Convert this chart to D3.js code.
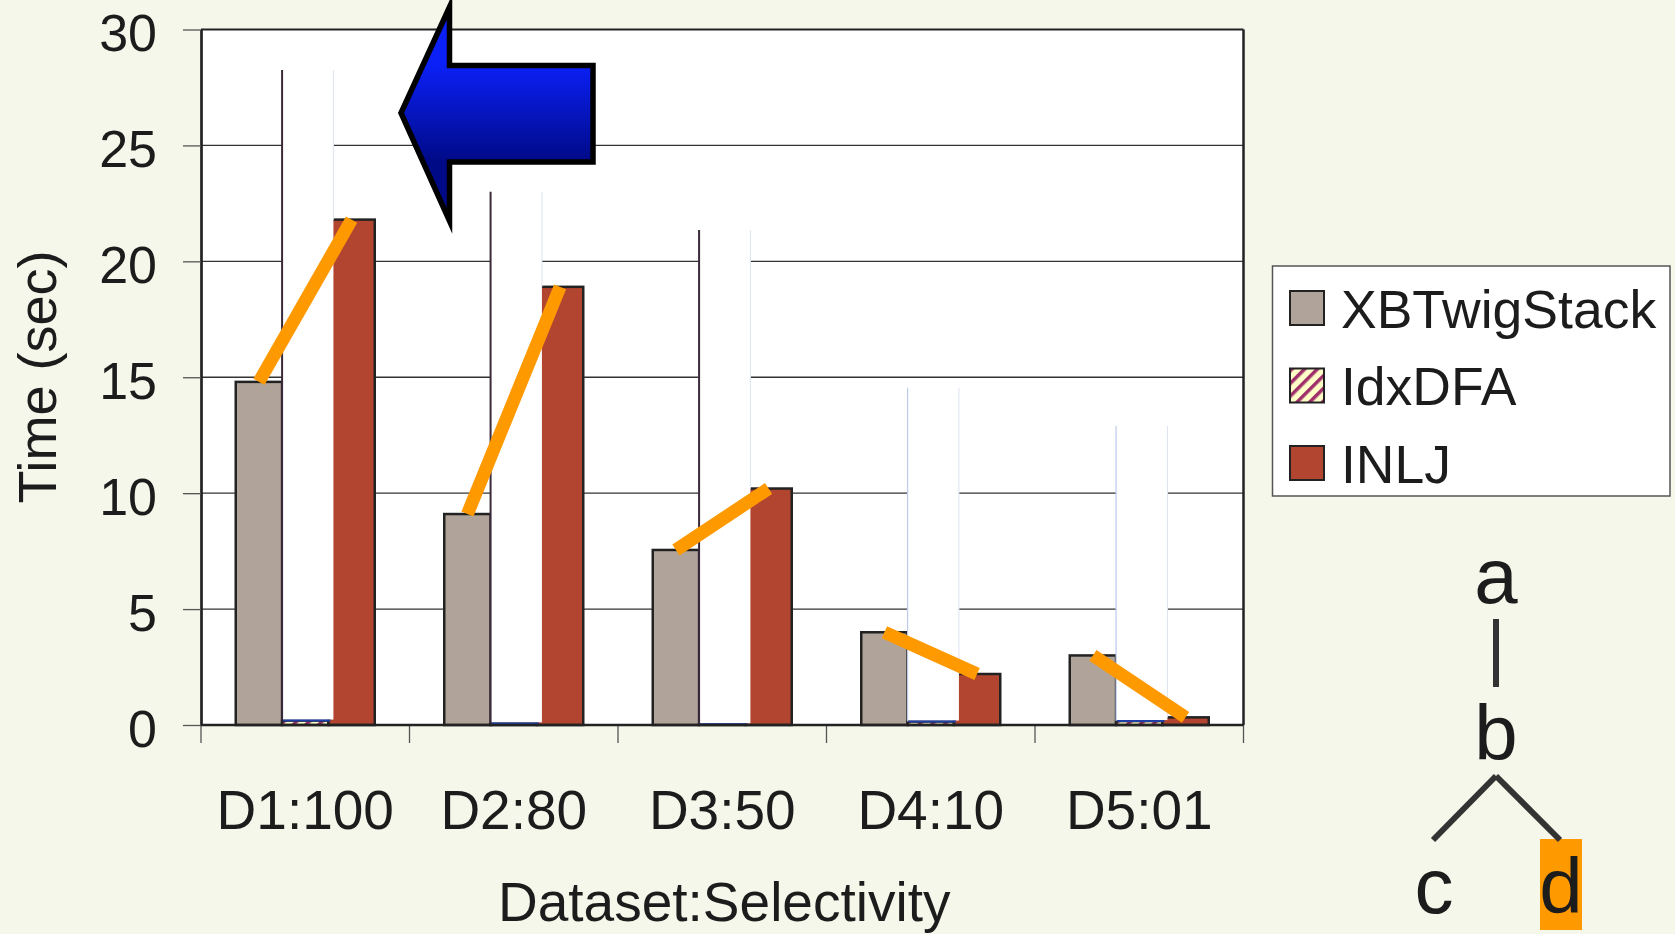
<!DOCTYPE html>
<html>
<head>
<meta charset="utf-8">
<script src="https://cdn.jsdelivr.net/npm/d3@7"></script>
<style>
  html, body { margin: 0; padding: 0; background: #F4F7EA; }
  svg { display: block; }
  text { font-family: 'Liberation Sans', Arial, sans-serif; fill: #1c1c1c; }
</style>
</head>
<body>
<div id="chart"></div>
<script>
// Data
const categories = ['D1:100', 'D2:80', 'D3:50', 'D4:10', 'D5:01'];
const seriesNames = ['XBTwigStack', 'IdxDFA', 'INLJ'];
const xbTwigStack = [14.8, 9.1, 7.55, 4.0, 3.0];
const idxDFA = [0.19, 0.07, 0.03, 0.15, 0.17];
const inlj = [21.8, 18.9, 10.2, 2.2, 0.33];
// tops of the white boxes laid over the IdxDFA column
const coverTops = [28.25, 23.0, 21.35, 14.55, 12.9];
const yTicks = [0, 5, 10, 15, 20, 25, 30];

const seriesValues = { XBTwigStack: xbTwigStack, IdxDFA: idxDFA, INLJ: inlj };
const seriesFill = { XBTwigStack: '#B0A49A', IdxDFA: 'url(#hatch)', INLJ: '#B24530' };

const W = 1675;
const H = 934;
const plot = { left: 201, right: 1243.5, top: 29.5, bottom: 725 };

const svg = d3.select('#chart')
  .append('svg')
  .attr('width', W)
  .attr('height', H);

svg.append('rect')
  .attr('width', W)
  .attr('height', H)
  .attr('fill', '#F4F7EA');

const defs = svg.append('defs');

// diagonal hatch for IdxDFA
const hatch = defs.append('pattern')
  .attr('id', 'hatch')
  .attr('patternUnits', 'userSpaceOnUse')
  .attr('width', 9)
  .attr('height', 9)
  .attr('patternTransform', 'rotate(45)');
hatch.append('rect').attr('width', 9).attr('height', 9).attr('fill', '#FFFFC8');
hatch.append('rect').attr('width', 3.5).attr('height', 9).attr('fill', '#9E2F6A');

const grad = defs.append('linearGradient')
  .attr('id', 'arrowFill')
  .attr('gradientUnits', 'userSpaceOnUse')
  .attr('x1', 0).attr('y1', 65)
  .attr('x2', 0).attr('y2', 162);
grad.append('stop').attr('offset', 0).attr('stop-color', '#0B20F6');
grad.append('stop').attr('offset', 1).attr('stop-color', '#000A86');

// Scales
const x0 = d3.scaleBand()
  .domain(categories)
  .range([plot.left, plot.right]);

const x1 = d3.scaleBand()
  .domain(seriesNames)
  .range([0, x0.bandwidth()])
  .paddingInner(0)
  .paddingOuter(0.75);

const y = d3.scaleLinear()
  .domain([0, 30])
  .range([plot.bottom, plot.top]);

const bw = x1.bandwidth();

// Plot background
svg.append('rect')
  .attr('x', plot.left)
  .attr('y', plot.top)
  .attr('width', plot.right - plot.left)
  .attr('height', plot.bottom - plot.top)
  .attr('fill', '#fff');

// Gridlines
svg.append('g')
  .selectAll('line')
  .data(yTicks.filter(t => t > 0 && t < 30))
  .enter()
  .append('line')
  .attr('x1', plot.left)
  .attr('x2', plot.right)
  .attr('y1', d => y(d))
  .attr('y2', d => y(d))
  .style('stroke', '#333')
  .style('stroke-width', '1.3px');

// Bars
const groups = svg.append('g')
  .selectAll('g')
  .data(categories)
  .enter()
  .append('g')
  .attr('transform', d => `translate(${x0(d)},0)`);

groups.selectAll('rect')
  .data((c, i) => seriesNames.map(s => ({ s, v: seriesValues[s][i] })))
  .enter()
  .append('rect')
  .attr('x', d => x1(d.s))
  .attr('y', d => y(d.v))
  .attr('width', bw)
  .attr('height', d => y(0) - y(d.v))
  .attr('fill', d => seriesFill[d.s])
  .style('stroke', '#222')
  .style('stroke-width', '2.5px');

// White covers over the IdxDFA column
const covers = svg.append('g')
  .selectAll('g')
  .data(categories)
  .enter()
  .append('g')
  .attr('transform', d => `translate(${x0(d) + x1('IdxDFA')},0)`);

covers.append('rect')
  .attr('x', 0)
  .attr('y', (d, i) => y(coverTops[i]))
  .attr('width', bw + 5)
  .attr('height', (d, i) => y(idxDFA[i]) - y(coverTops[i]) - 1)
  .attr('fill', '#fff');

covers.append('line')
  .attr('x1', 0).attr('x2', 0)
  .attr('y1', (d, i) => y(coverTops[i]))
  .attr('y2', (d, i) => y(idxDFA[i]))
  .style('stroke', (d, i) => (i < 3 ? '#3a2a3a' : '#bccbea'))
  .style('stroke-width', (d, i) => (i < 3 ? '2px' : '1.2px'));

covers.append('line')
  .attr('x1', bw + 5).attr('x2', bw + 5)
  .attr('y1', (d, i) => y(coverTops[i]))
  .attr('y2', (d, i) => y(Math.max(inlj[i], idxDFA[i])))
  .style('stroke', '#dde3ef')
  .style('stroke-width', '1px');

covers.append('line')
  .attr('x1', 1).attr('x2', bw + 2)
  .attr('y1', (d, i) => y(idxDFA[i]))
  .attr('y2', (d, i) => y(idxDFA[i]))
  .style('stroke', '#1f3fa6')
  .style('stroke-width', '2px');

// Axis frame
svg.append('line')
  .attr('x1', plot.left).attr('x2', plot.right)
  .attr('y1', plot.top).attr('y2', plot.top)
  .style('stroke', '#222').style('stroke-width', '2px');
svg.append('line')
  .attr('x1', plot.right).attr('x2', plot.right)
  .attr('y1', plot.top).attr('y2', plot.bottom)
  .style('stroke', '#222').style('stroke-width', '2.5px');

// Y axis
const yAxis = svg.append('g')
  .attr('transform', `translate(${plot.left},0)`)
  .call(d3.axisLeft(y).tickValues(yTicks).tickSizeInner(18).tickSizeOuter(0).tickPadding(26));
yAxis.select('.domain').style('stroke', '#222').style('stroke-width', '2.7px');
yAxis.selectAll('.tick line').style('stroke', '#555').style('stroke-width', '1.3px');
yAxis.selectAll('.tick text')
  .attr('dy', '0.41em')
  .style('font-size', '52px')
  .style('font-family', "'Liberation Sans', Arial, sans-serif")
  .style('fill', '#1c1c1c');

// X axis
const xAxis = svg.append('g')
  .attr('transform', `translate(0,${plot.bottom})`)
  .call(d3.axisBottom(x0).tickSize(0).tickPadding(0));
xAxis.select('.domain').remove();
xAxis.selectAll('.tick text')
  .attr('y', 104)
  .attr('dy', 0)
  .style('font-size', '55px')
  .style('font-family', "'Liberation Sans', Arial, sans-serif")
  .style('fill', '#1c1c1c');

svg.append('g')
  .selectAll('line')
  .data(categories.map(c => x0(c)).concat([plot.right]))
  .enter()
  .append('line')
  .attr('x1', d => d).attr('x2', d => d)
  .attr('y1', plot.bottom).attr('y2', plot.bottom + 18)
  .style('stroke', '#555')
  .style('stroke-width', '1.3px');

svg.append('line')
  .attr('x1', plot.left).attr('x2', plot.right)
  .attr('y1', plot.bottom).attr('y2', plot.bottom)
  .style('stroke', '#222').style('stroke-width', '2.7px');

// Axis titles
svg.append('text')
  .attr('x', (plot.left + plot.right) / 2 + 2)
  .attr('y', 921)
  .attr('text-anchor', 'middle')
  .style('font-size', '55px')
  .text('Dataset:Selectivity');

svg.append('text')
  .attr('transform', 'translate(56,377) rotate(-90)')
  .attr('text-anchor', 'middle')
  .style('font-size', '54px')
  .text('Time (sec)');

// Orange slope marks: XBTwigStack top to INLJ top
svg.append('g')
  .selectAll('line')
  .data(categories)
  .enter()
  .append('line')
  .attr('x1', d => x0(d) + x1('XBTwigStack') + bw / 2)
  .attr('y1', (d, i) => y(xbTwigStack[i]))
  .attr('x2', d => x0(d) + x1('INLJ') + bw / 2)
  .attr('y2', (d, i) => y(inlj[i]))
  .style('stroke', '#FF9900')
  .style('stroke-width', '13px')
  .style('stroke-linecap', 'butt');

// Blue arrow pointing at the first group
const arrow = { tip: [401, 113], neck: 449.5, headTop: 7, headBottom: 221, shaftTop: 65.5, shaftBottom: 162, end: 593 };
svg.append('path')
  .attr('d', d3.line()([
    arrow.tip,
    [arrow.neck, arrow.headTop],
    [arrow.neck, arrow.shaftTop],
    [arrow.end, arrow.shaftTop],
    [arrow.end, arrow.shaftBottom],
    [arrow.neck, arrow.shaftBottom],
    [arrow.neck, arrow.headBottom],
  ]) + 'Z')
  .attr('fill', 'url(#arrowFill)')
  .style('stroke', '#000')
  .style('stroke-width', '5.5px')
  .style('stroke-linejoin', 'miter')
  .style('stroke-miterlimit', 10);

// Legend
const legend = svg.append('g');
legend.append('rect')
  .attr('x', 1272.5).attr('y', 266)
  .attr('width', 397.5).attr('height', 230)
  .attr('fill', '#fff')
  .style('stroke', '#555')
  .style('stroke-width', '1.5px');

const legendItems = legend.selectAll('g.item')
  .data(seriesNames)
  .enter()
  .append('g')
  .attr('class', 'item')
  .attr('transform', (d, i) => `translate(1290,${291 + i * 77.5})`);

legendItems.append('rect')
  .attr('width', 34).attr('height', 34)
  .attr('fill', d => seriesFill[d])
  .style('stroke', '#222')
  .style('stroke-width', '2px');

legendItems.append('text')
  .attr('x', 51)
  .attr('y', 36.5)
  .style('font-size', '53.5px')
  .text(d => d);

// Query tree a / b / (c, d)
const tree = svg.append('g');
tree.append('rect')
  .attr('x', 1540).attr('y', 839)
  .attr('width', 42).attr('height', 91)
  .attr('fill', '#FF9900');

const treeEdges = [
  [[1496, 619], [1496, 687]],
  [[1496, 776], [1433, 840]],
  [[1496, 776], [1560, 840]],
];
tree.selectAll('path')
  .data(treeEdges)
  .enter()
  .append('path')
  .attr('d', d => d3.line()(d))
  .attr('fill', 'none')
  .style('stroke', '#333')
  .style('stroke-width', '6px');

const treeLabels = [
  { t: 'a', x: 1496, y: 603 },
  { t: 'b', x: 1496, y: 760 },
  { t: 'c', x: 1434, y: 913 },
  { t: 'd', x: 1561, y: 913 },
];
tree.selectAll('text')
  .data(treeLabels)
  .enter()
  .append('text')
  .attr('x', d => d.x)
  .attr('y', d => d.y)
  .attr('text-anchor', 'middle')
  .style('font-size', '78px')
  .text(d => d.t);
</script>
</body>
</html>
